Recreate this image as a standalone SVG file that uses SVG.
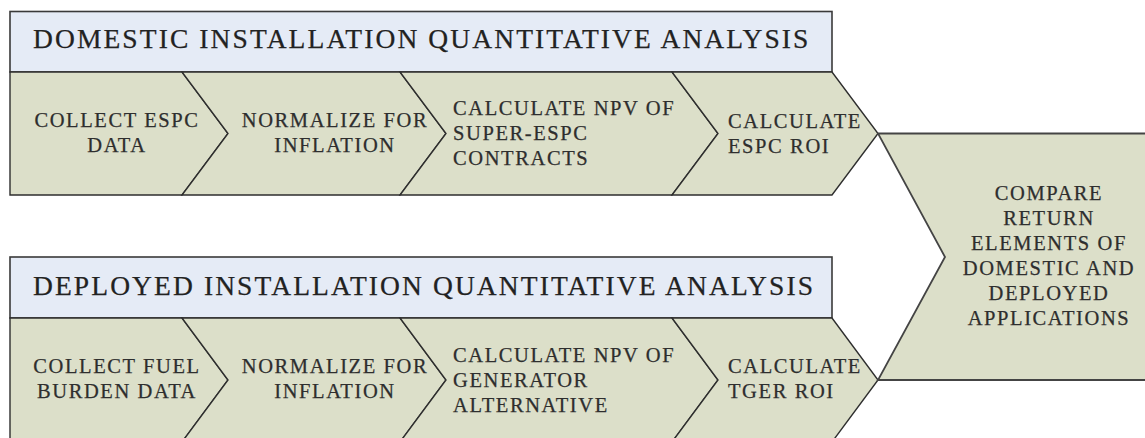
<svg xmlns="http://www.w3.org/2000/svg" width="1145" height="438" viewBox="0 0 1145 438">
  <style>
    .hdr { fill: #e5ebf6; stroke: #3a3a3a; stroke-width: 1.6; }
    .step { fill: #dcdfc9; stroke: #2e2e2e; stroke-width: 1.4; stroke-linejoin: miter; }
    .hdr-text { font-family: "Liberation Serif", "Times New Roman", serif; font-size: 27.5px; fill: #222222; stroke: #222222; stroke-width: 0.25px; letter-spacing: 2.1px; }
    .step-text { font-family: "Liberation Serif", "Times New Roman", serif; font-size: 20.5px; fill: #2e2e2e; stroke: #2e2e2e; stroke-width: 0.25px; letter-spacing: 1.6px; }
    .mid { text-anchor: middle; }
  </style>
  <rect width="1145" height="438" fill="#ffffff"/>

  <!-- Domestic analysis track -->
  <g id="domestic-header">
    <rect class="hdr" x="10" y="11.5" width="822" height="60.5"/>
    <text class="hdr-text" x="33" y="48">DOMESTIC INSTALLATION QUANTITATIVE ANALYSIS</text>
  </g>
  <g id="dom-collect">
    <polygon class="step" points="10,72 182,72 228,133.5 182,195 10,195"/>
    <text class="step-text mid" x="117" y="127">COLLECT ESPC</text>
    <text class="step-text mid" x="117" y="152">DATA</text>
  </g>
  <g id="dom-normalize">
    <polygon class="step" points="182,72 400,72 446,133.5 400,195 182,195 228,133.5"/>
    <text class="step-text mid" x="335" y="127">NORMALIZE FOR</text>
    <text class="step-text mid" x="335" y="152">INFLATION</text>
  </g>
  <g id="dom-npv">
    <polygon class="step" points="400,72 672,72 718,133.5 672,195 400,195 446,133.5"/>
    <text class="step-text" x="453" y="115">CALCULATE NPV OF</text>
    <text class="step-text" x="453" y="140">SUPER-ESPC</text>
    <text class="step-text" x="453" y="165">CONTRACTS</text>
  </g>
  <g id="dom-roi">
    <polygon class="step" points="672,72 832,72 878,133.5 832,195 672,195 718,133.5"/>
    <text class="step-text" x="728" y="128">CALCULATE</text>
    <text class="step-text" x="728" y="153">ESPC ROI</text>
  </g>

  <!-- Deployed analysis track -->
  <g id="deployed-header">
    <rect class="hdr" x="10" y="257" width="822" height="61"/>
    <text class="hdr-text" x="33" y="295">DEPLOYED INSTALLATION QUANTITATIVE ANALYSIS</text>
  </g>
  <g id="dep-collect">
    <polygon class="step" points="10,318 182,318 228,380 182,442 10,442"/>
    <text class="step-text mid" x="117" y="373">COLLECT FUEL</text>
    <text class="step-text mid" x="117" y="398">BURDEN DATA</text>
  </g>
  <g id="dep-normalize">
    <polygon class="step" points="182,318 400,318 446,380 400,442 182,442 228,380"/>
    <text class="step-text mid" x="335" y="373">NORMALIZE FOR</text>
    <text class="step-text mid" x="335" y="398">INFLATION</text>
  </g>
  <g id="dep-npv">
    <polygon class="step" points="400,318 672,318 718,380 672,442 400,442 446,380"/>
    <text class="step-text" x="453" y="362">CALCULATE NPV OF</text>
    <text class="step-text" x="453" y="387">GENERATOR</text>
    <text class="step-text" x="453" y="412">ALTERNATIVE</text>
  </g>
  <g id="dep-roi">
    <polygon class="step" points="672,318 832,318 878,380 832,442 672,442 718,380"/>
    <text class="step-text" x="728" y="373">CALCULATE</text>
    <text class="step-text" x="728" y="398">TGER ROI</text>
  </g>

  <!-- Merge step -->
  <g id="compare">
    <polygon class="step" points="878,133.5 1150,133.5 1150,380 878,380 945,257" style="stroke:#444;stroke-width:1.8"/>
    <text class="step-text mid" x="1049" y="200">COMPARE</text>
    <text class="step-text mid" x="1049" y="225">RETURN</text>
    <text class="step-text mid" x="1049" y="250">ELEMENTS OF</text>
    <text class="step-text mid" x="1049" y="275">DOMESTIC AND</text>
    <text class="step-text mid" x="1049" y="300">DEPLOYED</text>
    <text class="step-text mid" x="1049" y="325">APPLICATIONS</text>
  </g>

  <!-- Flow between steps is carried by the chevron shapes themselves -->
  <g id="connectors"></g>
</svg>
